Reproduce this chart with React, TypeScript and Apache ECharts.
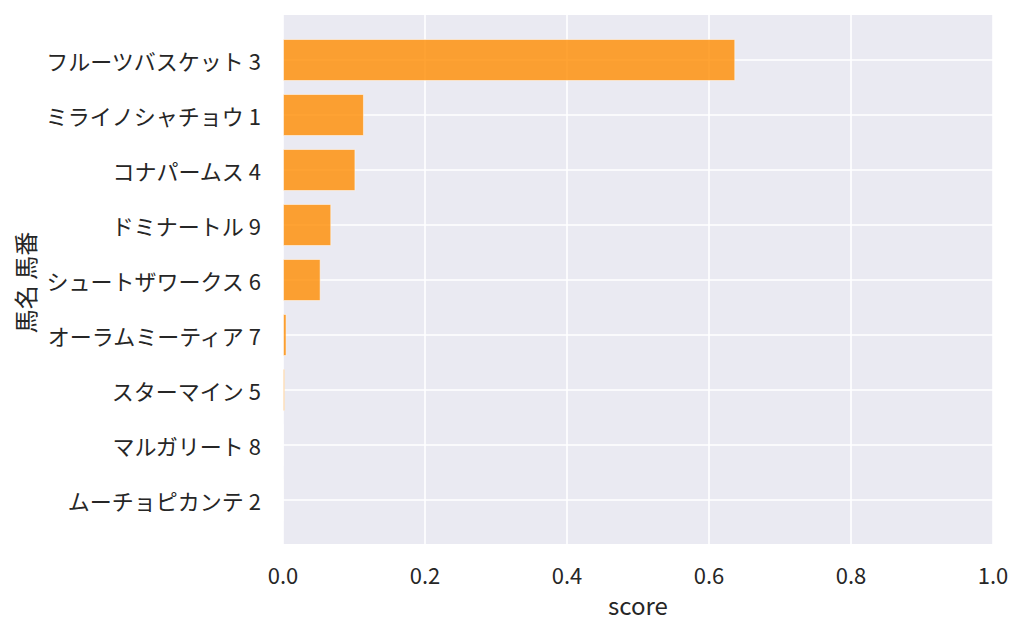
import React, { useEffect, useRef } from "react";
import * as echarts from "echarts";

const horses = [
  "フルーツバスケット 3",
  "ミライノシャチョウ 1",
  "コナパームス 4",
  "ドミナートル 9",
  "シュートザワークス 6",
  "オーラムミーティア 7",
  "スターマイン 5",
  "マルガリート 8",
  "ムーチョピカンテ 2",
];
const scores = [0.637, 0.114, 0.102, 0.068, 0.053, 0.005, 0.0028, 0.0006, 0.0003];
const xTicks = [0, 0.2, 0.4, 0.6, 0.8, 1.0];

const FONT = "'Noto Sans CJK JP', 'Noto Sans', sans-serif";
const TEXT = "#262626";

export default function App() {
  const ref = useRef<HTMLDivElement>(null);
  useEffect(() => {
    document.body.style.margin = "0";
    if (!ref.current) return;
    const chart = echarts.init(ref.current, undefined, { renderer: "svg" });
    chart.setOption({
      animation: false,
      backgroundColor: "#ffffff",
      textStyle: { fontFamily: FONT },
      grid: [
        { left: 283, right: 31, top: 15, bottom: 90, show: true, backgroundColor: "#eaeaf2", borderWidth: 0 },
        { left: 283, right: 31, top: 60, height: 440 },
      ],
      xAxis: [
        {
          type: "value",
          gridIndex: 0,
          min: xTicks[0],
          max: xTicks[xTicks.length - 1],
          interval: 0.2,
          axisLine: { show: false },
          axisTick: { show: false },
          splitLine: { show: true, lineStyle: { color: "#ffffff", width: 1.6 } },
          axisLabel: {
            formatter: (v: number) => v.toFixed(1),
            fontSize: 22,
            color: TEXT,
            fontFamily: FONT,
            margin: 19,
          },
        },
        {
          type: "value",
          gridIndex: 1,
          min: 0,
          max: 1,
          show: false,
        },
      ],
      yAxis: [
        { type: "value", gridIndex: 0, show: false },
        {
          type: "category",
          gridIndex: 1,
          inverse: true,
          boundaryGap: false,
          data: horses,
          axisLine: { show: false },
          axisTick: { show: false },
          splitLine: { show: true, lineStyle: { color: "#ffffff", width: 1.6 } },
          axisLabel: { fontSize: 22, color: TEXT, fontFamily: FONT, margin: 22 },
        },
      ],
      graphic: [
        {
          type: "text",
          x: 638,
          y: 604,
          style: { text: "score", font: `24px ${FONT}`, fill: TEXT, textAlign: "center", textVerticalAlign: "middle" },
        },
        {
          type: "text",
          x: 24,
          y: 282.5,
          rotation: Math.PI / 2,
          style: { text: "馬名 馬番", font: `24px ${FONT}`, fill: TEXT, textAlign: "center", textVerticalAlign: "middle" },
        },
      ],
      series: [
        {
          type: "bar",
          xAxisIndex: 1,
          yAxisIndex: 1,
          data: scores,
          barWidth: 42,
          clip: false,
          itemStyle: {
            color: "rgba(255,140,0,0.8)",
            borderColor: "rgba(255,255,255,0.5)",
            borderWidth: 1,
          },
        },
      ],
    });
    return () => chart.dispose();
  }, []);
  return <div ref={ref} style={{ width: 1024, height: 634, position: "absolute", left: 0, top: 0 }} />;
}
